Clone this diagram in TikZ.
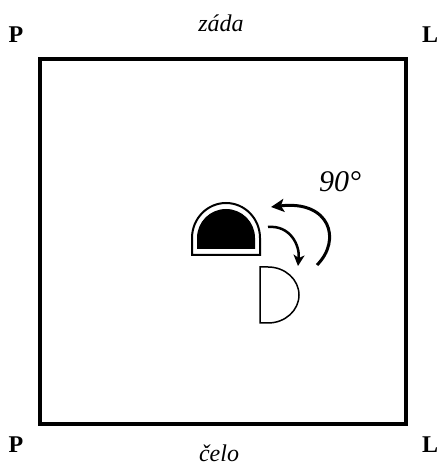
\documentclass[tikz,border=0pt]{standalone}
\usepackage{fontspec}
\setmainfont{Liberation Serif}
\usetikzlibrary{arrows.meta}
\begin{document}
\begin{tikzpicture}[x=1pt,y=1pt,
  corner/.style={font=\bfseries\fontsize{24}{26}\selectfont,anchor=base,inner sep=0},
  side/.style={font=\itshape\fontsize{24}{26}\selectfont,anchor=base,inner sep=0},
  turn/.style={line width=3pt,-{Stealth[length=13pt,width=13pt,inset=3pt]}}]
\useasboundingbox (0,0) rectangle (438,468);
\fill[white] (0,0) rectangle (438,468);
% frame
\draw[line width=4pt] (40,44) rectangle (406,409);
% labels
\node[corner] (ptl) at (16,425) {P};
\node[corner] (ltl) at (430,425) {L};
\node[corner] (pbl) at (16,15) {P};
\node[corner] (lbl) at (430,15) {L};
\node[side] (zada) at (221,436) {záda};
\node[side] (celo) at (219,6) {čelo};
\node[font=\itshape\fontsize{30}{32}\selectfont,anchor=base,inner sep=0] (deg) at (340,276) {90°};
% dome
\draw[line width=2pt] (192,213) -- (192,230) arc[start angle=180,end angle=0,x radius=34,y radius=35] -- (260,213) -- cycle;
\fill (197,219) -- (197,230) arc[start angle=180,end angle=0,x radius=29,y radius=29] -- (255,219) -- cycle;
% D shape
\draw[line width=1.5pt] (260,201) -- (268,201) arc[start angle=90,end angle=-90,x radius=31,y radius=28] -- (260,145) -- cycle;
% arrows
\coordinate (s1) at (268,241);
\coordinate (e1) at (298,202);
\coordinate (s2) at (317,203);
\coordinate (e2) at (271,261);
\draw[line width=2.5pt,-{Stealth[length=11pt,width=11pt,inset=3pt]}] (s1) .. controls (290,243) and (300,223) .. (e1);
\draw[turn] (s2) .. controls (342,228) and (330,268) .. (e2);
\end{tikzpicture}
\end{document}
